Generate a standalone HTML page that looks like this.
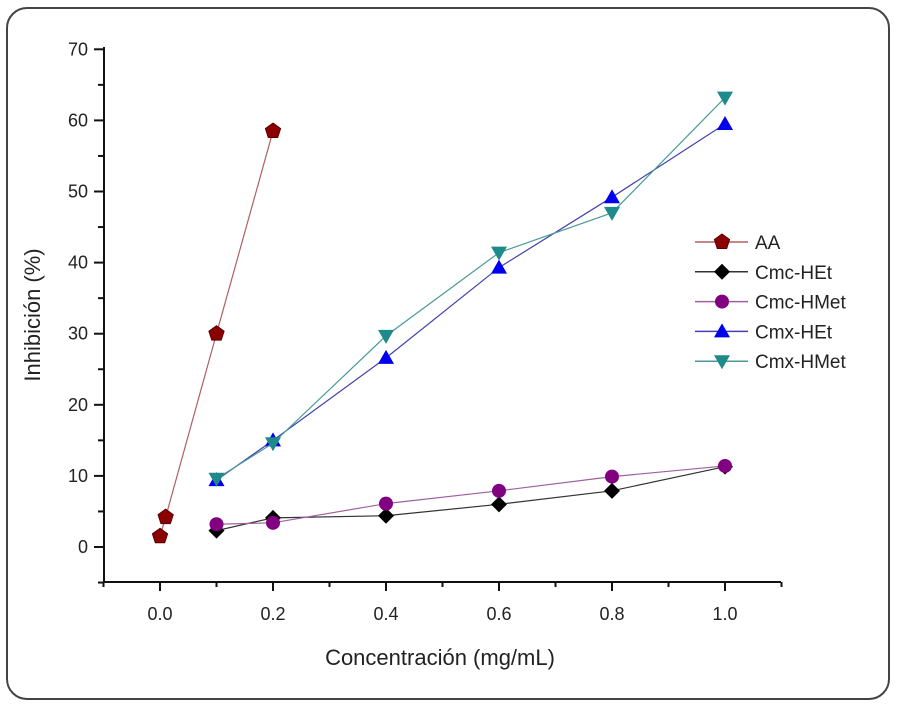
<!DOCTYPE html>
<html><head><meta charset="utf-8"><style>
body{margin:0;background:#fff;overflow:hidden;}
svg text{font-family:"Liberation Sans",Arial,sans-serif;fill:#222;}
</style></head><body>
<svg id="chart" width="897" height="708" viewBox="0 0 897 708" xmlns="http://www.w3.org/2000/svg">
<rect x="7" y="8" width="882" height="691" rx="20" ry="20" fill="#fff" stroke="#444" stroke-width="2"/>
<g id="axes"></g>
<g id="series"></g>
<g id="legend"></g>
<text x="440" y="665" font-size="22" text-anchor="middle">Concentración (mg/mL)</text>
<text transform="translate(40,315) rotate(-90)" font-size="22" text-anchor="middle">Inhibición (%)</text>
</svg>
<script>
const seriesNames=["AA","Cmc-HEt","Cmc-HMet","Cmx-HEt","Cmx-HMet"];
const xAA=[0,0.01,0.1,0.2];
const yAA=[1.5,4.2,30,58.5];
const xC=[0.1,0.2,0.4,0.6,0.8,1.0];
const yCmcHEt=[2.3,4.1,4.4,6.0,7.9,11.3];
const yCmcHMet=[3.2,3.4,6.1,7.9,9.9,11.4];
const yCmxHEt=[9.4,15,26.6,39.3,49.2,59.5];
const yCmxHMet=[9.6,14.6,29.7,41.4,47,63.2];
const xTicks=["0.0","0.2","0.4","0.6","0.8","1.0"];
const yTicks=["0","10","20","30","40","50","60","70"];

const NS="http://www.w3.org/2000/svg";
const X=v=>160+v*565;
const Y=v=>547-v*7.11;
function mk(t,a,p){const e=document.createElementNS(NS,t);for(const k in a)e.setAttribute(k,a[k]);p.appendChild(e);return e;}
const ax=document.getElementById('axes');
let l=mk('line',{x1:104,y1:582,x2:781,y2:582,stroke:'#111','stroke-width':2},ax);


l=mk('line',{x1:104,y1:47,x2:104,y2:583,stroke:'#111','stroke-width':2},ax);


for(let i=-1;i<=11;i++){const x=X(i/10);const major=i>=0&&i%2===0;
 mk('line',{x1:x,y1:582,x2:x,y2:major?591:587,stroke:'#111','stroke-width':2},ax);}
xTicks.forEach(t=>{const e=mk('text',{x:X(parseFloat(t)),y:620,'font-size':18,'text-anchor':'middle'},ax);e.textContent=t;
 
 });
for(let v=-5;v<=70;v+=5){const y=Y(v);const major=v>=0&&v%10===0;
 mk('line',{x1:104,y1:y,x2:major?94:98,y2:y,stroke:'#111','stroke-width':2},ax);}
yTicks.forEach(t=>{const e=mk('text',{x:88,y:Y(parseFloat(t))+6,'font-size':18,'text-anchor':'end'},ax);e.textContent=t;
 
 });

function marker(type,x,y,c,p){
 const s=8;
 if(type==='pent'){let pts=[];for(let i=0;i<5;i++){const a=-Math.PI/2+i*2*Math.PI/5;pts.push((x+s*Math.cos(a))+','+(y+s*Math.sin(a)));}return mk('polygon',{points:pts.join(' '),fill:c,stroke:'#5a0000'},p);}
 if(type==='dia')return mk('polygon',{points:`${x},${y-8} ${x+8},${y} ${x},${y+8} ${x-8},${y}`,fill:c},p);
 if(type==='circ')return mk('circle',{cx:x,cy:y,r:7,fill:c},p);
 if(type==='up')return mk('polygon',{points:`${x},${y-8} ${x+8},${y+6} ${x-8},${y+6}`,fill:c},p);
 return mk('polygon',{points:`${x-8},${y-6} ${x+8},${y-6} ${x},${y+8}`,fill:c},p);
}
const defs=[
 {xs:xAA,ys:yAA,m:'pent',c:'#8b0000',lc:'#b06060'},
 {xs:xC,ys:yCmcHEt,m:'dia',c:'#000',lc:'#333'},
 {xs:xC,ys:yCmcHMet,m:'circ',c:'#800080',lc:'#a060a0'},
 {xs:xC,ys:yCmxHEt,m:'up',c:'#0000ee',lc:'#4040b0'},
 {xs:xC,ys:yCmxHMet,m:'down',c:'#1f8a8a',lc:'#4a9a9a'}
];
const sg=document.getElementById('series');
defs.forEach((d,i)=>{
 const g=mk('g',{},sg);
 
 
 mk('polyline',{points:d.xs.map((x,j)=>X(x)+','+Y(d.ys[j])).join(' '),fill:'none',stroke:d.lc,'stroke-width':1.2},g);
 d.xs.forEach((x,j)=>{const m=marker(d.m,X(x),Y(d.ys[j]),d.c,g);
  
  });
});
const lg=document.getElementById('legend');
defs.forEach((d,i)=>{
 const y=242+i*29.8;
 const g=mk('g',{},lg);
 
 
 mk('line',{x1:695,y1:y,x2:748,y2:y,stroke:d.lc,'stroke-width':1.5},g);
 marker(d.m,722,y,d.c,g);
 const t=mk('text',{x:755,y:y+7,'font-size':19},g);t.textContent=seriesNames[i];
});
</script>
</body></html>
